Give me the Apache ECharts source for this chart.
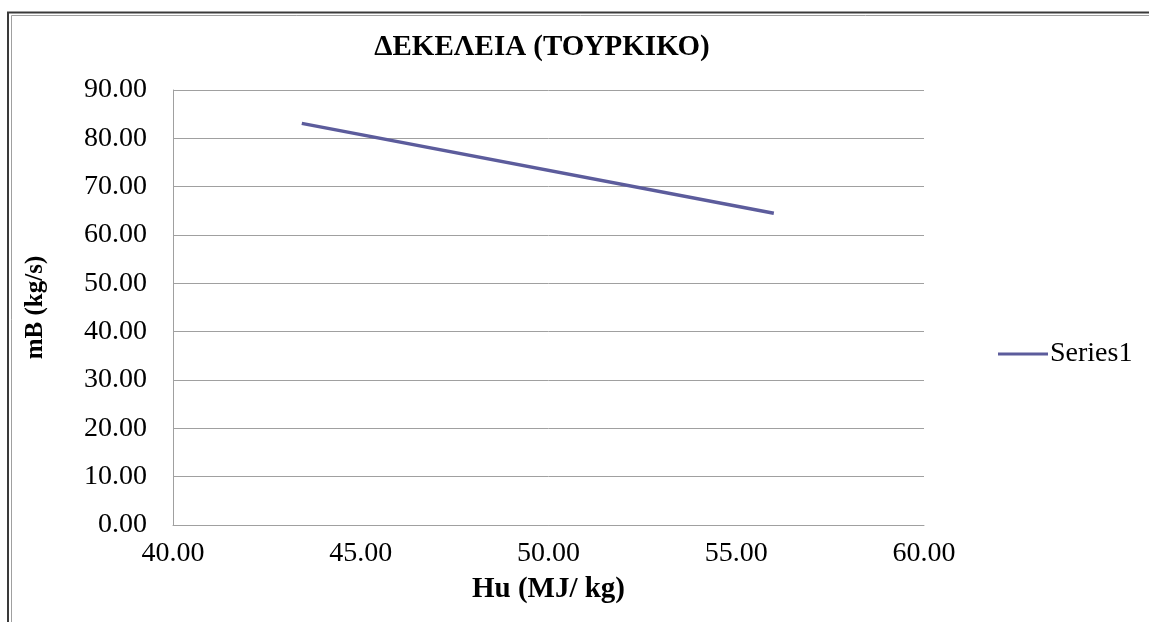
<!DOCTYPE html>
<html>
<head>
<meta charset="utf-8">
<script src="https://cdn.jsdelivr.net/npm/echarts@6/dist/echarts.min.js"></script>
<style>
html,body{margin:0;padding:0;background:#fff;}
#chart{width:1149px;height:622px;}
</style>
</head>
<body>
<div id="chart"></div>
<script>
var titleText = 'ΔΕΚΕΛΕΙΑ (ΤΟΥΡΚΙΚΟ)';
var xName = 'Hu (MJ/ kg)';
var yName = 'mB (kg/s)';
var seriesName = 'Series1';
var xValues = [43.43, 56.0];
var yValues = [83.1, 64.5];

var chart = echarts.init(document.getElementById('chart'));
var font = '"Liberation Serif", "Times New Roman", serif';
var option = {
  backgroundColor: '#fff',
  animation: false,
  graphic: [
    {type: 'rect', shape: {x: 8, y: 12.5, width: 1200, height: 700}, style: {fill: 'none', stroke: '#3a3a3a', lineWidth: 2}, silent: true},
    {type: 'rect', shape: {x: 11.5, y: 15.5, width: 1200, height: 700}, style: {fill: 'none', stroke: '#a0a0a0', lineWidth: 1}, silent: true}
  ],
  title: {
    text: titleText,
    left: 537, top: 28, textAlign: 'center',
    textStyle: {fontFamily: font, fontWeight: 'bold', fontSize: 29, color: '#000'}
  },
  legend: {
    data: [{name: seriesName, icon: 'rect'}],
    left: 993, top: 335,
    itemWidth: 50, itemHeight: 3, itemGap: 5,
    textStyle: {fontFamily: font, fontSize: 28, color: '#000', padding: [0,0,0,-3]}
  },
  grid: {left: 173, top: 90, right: 225, bottom: 97, containLabel: false},
  xAxis: {
    type: 'value', min: 40, max: 60, interval: 5,
    name: xName, nameLocation: 'middle', nameGap: 50,
    nameTextStyle: {fontFamily: font, fontWeight: 'bold', fontSize: 29, color: '#000'},
    axisLine: {show: true, lineStyle: {color: '#a0a0a0', width: 1}},
    axisTick: {show: false},
    splitLine: {show: false},
    axisLabel: {fontFamily: font, fontSize: 28, color: '#000', margin: 15, formatter: function(v){return v.toFixed(2);}}
  },
  yAxis: {
    type: 'value', min: 0, max: 90, interval: 10,
    name: yName, nameLocation: 'middle', nameGap: 125, nameRotate: 90,
    nameTextStyle: {fontFamily: font, fontWeight: 'bold', fontSize: 25, color: '#000'},
    axisLine: {show: true, lineStyle: {color: '#a0a0a0', width: 1}},
    axisTick: {show: false},
    splitLine: {show: true, lineStyle: {color: '#a0a0a0', width: 1}},
    axisLabel: {fontFamily: font, fontSize: 28, color: '#000', margin: 26, formatter: function(v){return v.toFixed(2);}}
  },
  series: [{
    name: seriesName,
    type: 'line',
    symbol: 'none',
    data: xValues.map(function(x, i){return [x, yValues[i]];}),
    lineStyle: {color: '#5c5c9c', width: 3.5},
    itemStyle: {color: '#5c5c9c'}
  }]
};
chart.setOption(option);
</script>
</body>
</html>
